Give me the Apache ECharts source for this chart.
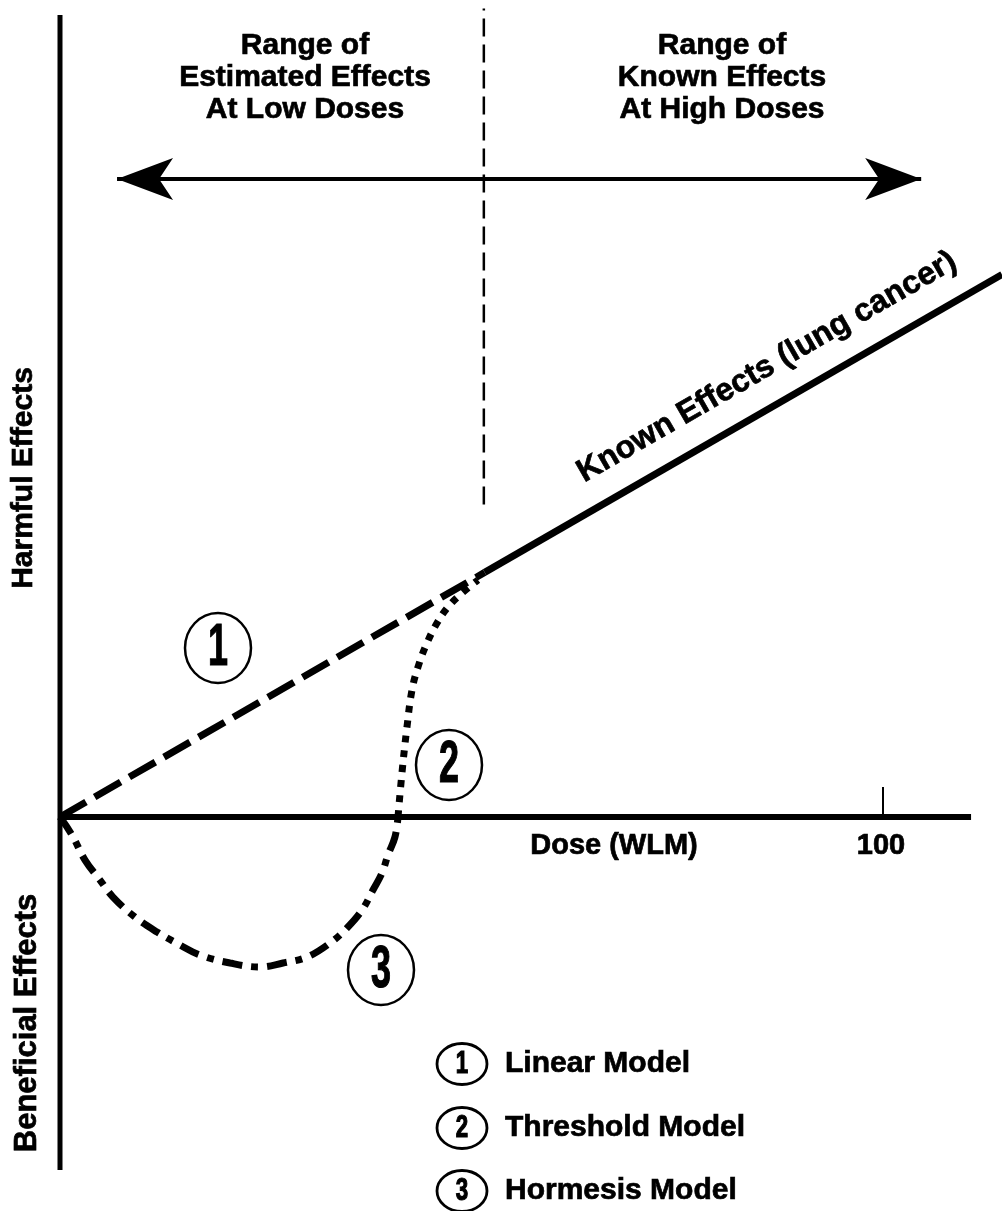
<!DOCTYPE html>
<html><head><meta charset="utf-8">
<script src="https://cdn.jsdelivr.net/npm/echarts@6/dist/echarts.min.js"></script>
<style>html,body{margin:0;padding:0;background:#fff}#c{width:1002px;height:1211px}</style>
</head><body><div id="c"></div>
<script>
// ---- data (dose units on x, effect units on y) ----
const xTickValues = [100];
const xTickLabels = ['100'];
const doseAxis = [[0, 0], [110.7, 0]];
const effectAxis = [[0, -42.91], [0, 97.5]];
const linearModel = [[0, 0], [51.6, 29.74]];
const knownEffects = [[51.6, 29.74], [114.46, 65.96]];
const thresholdModel = [
  [41.07, 0], [41.55, 5.35], [42.16, 10.94], [42.77, 15.44], [43.50, 18.24],
  [44.59, 21.15], [45.81, 23.58], [47.14, 25.53], [48.85, 27.23], [50.79, 28.81]
];
const hormesisModel = [
  [0, 0], [1.46, -2.19], [3.04, -5.23], [4.86, -7.66], [6.44, -9.73], [9.11, -12.16],
  [11.79, -13.98], [14.58, -15.56], [17.01, -16.78], [20.66, -17.75], [24.30, -18.23],
  [27.10, -17.75], [30.01, -17.02], [32.81, -15.32], [34.87, -13.49], [36.70, -11.31],
  [38.03, -8.87], [39.12, -6.81], [39.85, -4.62], [40.70, -2.43], [41.07, 0]
];
const boundaryLine = [[51.5, 38], [51.5, 98.3]];
const rangeArrow = [[6.93, 77.56], [104.64, 77.56]];
const leftRangeText = 'Range of\nEstimated Effects\nAt Low Doses';
const rightRangeText = 'Range of\nKnown Effects\nAt High Doses';
const knownLabel = 'Known Effects (lung cancer)';
const xName = 'Dose (WLM)';
const yNameTop = 'Harmful Effects';
const yNameBottom = 'Beneficial Effects';
const modelNumbers = ['1', '2', '3'];
const modelNames = ['Linear Model', 'Threshold Model', 'Hormesis Model'];

// ---- chart ----
const FONT = '"Liberation Sans", Arial, Helvetica, sans-serif';
const chart = echarts.init(document.getElementById('c'), null, {renderer: 'canvas'});

function circled(cx, cy, rx, ry, num, fs, sx, lw) {
  return {
    type: 'group', x: cx, y: cy, silent: true,
    children: [
      {type: 'ellipse', shape: {cx: 0, cy: 0, rx: rx, ry: ry},
       style: {fill: '#fff', stroke: '#000', lineWidth: lw}},
      {type: 'text', scaleX: sx, x: 0, y: 0,
       style: {text: num, x: 0, y: 0, align: 'center', verticalAlign: 'middle',
               textAlign: 'center', textVerticalAlign: 'middle',
               font: 'bold ' + fs + 'px ' + FONT, fill: '#000', stroke: '#000', lineWidth: 1.2}}
    ]
  };
}
function txt(x, y, text, fs, opts) {
  opts = opts || {};
  return {
    type: 'text', x: x, y: y, rotation: opts.rotation || 0, silent: true,
    style: {text: text, x: 0, y: 0,
            align: opts.align || 'center', textAlign: opts.align || 'center',
            verticalAlign: opts.va || 'middle', textVerticalAlign: opts.va || 'middle',
            lineHeight: opts.lh || fs * 1.15,
            font: 'bold ' + fs + 'px ' + FONT, fill: '#000', stroke: '#000', lineWidth: 0.7}
  };
}

const plotCircles = [[218, 648], [449, 765], [381, 970]];
const legendY = [1064, 1128, 1191];

const graphics = [
  txt(305, 30, leftRangeText, 30, {va: 'top', lh: 32}),
  txt(722, 30, rightRangeText, 30, {va: 'top', lh: 32}),
  txt(24, 478, yNameTop, 30, {rotation: Math.PI / 2}),
  txt(27, 1023, yNameBottom, 31, {rotation: Math.PI / 2}),
  txt(614, 846, xName, 29),
  txt(881, 846, xTickLabels[0], 29),
  txt(767, 367, knownLabel, 32, {rotation: Math.atan(0.576)})
];
plotCircles.forEach((p, i) => graphics.push(circled(p[0], p[1], 33, 35, modelNumbers[i], 60, 0.6, 2.5)));
legendY.forEach((y, i) => {
  graphics.push(circled(462, y, 25, 20.5, modelNumbers[i], 31, 0.72, 2.8));
  graphics.push(txt(505, y, modelNames[i], 30, {align: 'left'}));
});

const lineBase = {type: 'line', symbol: 'none', clip: false, silent: true, animation: false};

chart.setOption({
  animation: false,
  backgroundColor: '#fff',
  grid: {left: 60, right: 0, top: 8, bottom: 41, containLabel: false},
  xAxis: {
    type: 'value', min: 0, max: 114.46,
    axisLine: {show: true, onZero: true, lineStyle: {color: 'rgba(0,0,0,0)', width: 1}},
    axisTick: {show: true, inside: true, length: 30, customValues: xTickValues,
               lineStyle: {color: '#000', width: 2}},
    axisLabel: {show: false},
    splitLine: {show: false}
  },
  yAxis: {
    type: 'value', min: -42.91, max: 98.35,
    axisLine: {show: false}, axisTick: {show: false}, axisLabel: {show: false}, splitLine: {show: false}
  },
  series: [
    Object.assign({}, lineBase, {name: 'Dose axis', data: doseAxis, z: 5,
      lineStyle: {color: '#000', width: 6, type: 'solid'}}),
    Object.assign({}, lineBase, {name: 'Effect axis', data: effectAxis, z: 5,
      lineStyle: {color: '#000', width: 5, type: 'solid'}}),
    Object.assign({}, lineBase, {name: 'Known Effects', data: knownEffects, z: 4,
      lineStyle: {color: '#000', width: 7, type: 'solid'}}),
    Object.assign({}, lineBase, {name: 'Linear Model', data: linearModel, z: 3,
      lineStyle: {color: '#000', width: 7, type: [30, 10]}}),
    Object.assign({}, lineBase, {name: 'Threshold Model', data: thresholdModel, z: 3, smooth: 0.4,
      lineStyle: {color: '#000', width: 7, type: [7, 8]}}),
    Object.assign({}, lineBase, {name: 'Hormesis Model', data: hormesisModel, z: 3, smooth: 0.4,
      lineStyle: {color: '#000', width: 7, type: [20, 9, 7, 9]}}),
    Object.assign({}, lineBase, {name: 'Boundary', data: boundaryLine, z: 2,
      lineStyle: {color: '#000', width: 2.5, type: [18, 8]},
      markLine: {
        silent: true, animation: false, symbol: ['arrow', 'arrow'],
        label: {show: false}, emphasis: {disabled: true},
        lineStyle: {color: '#000', width: 4, type: 'solid'},
        data: [[
          {coord: rangeArrow[0], symbol: 'arrow', symbolSize: [31.5, 56]},
          {coord: rangeArrow[1], symbol: 'arrow', symbolSize: [31.5, 56]}
        ]]
      }})
  ],
  graphic: {elements: graphics}
});
</script></body></html>
